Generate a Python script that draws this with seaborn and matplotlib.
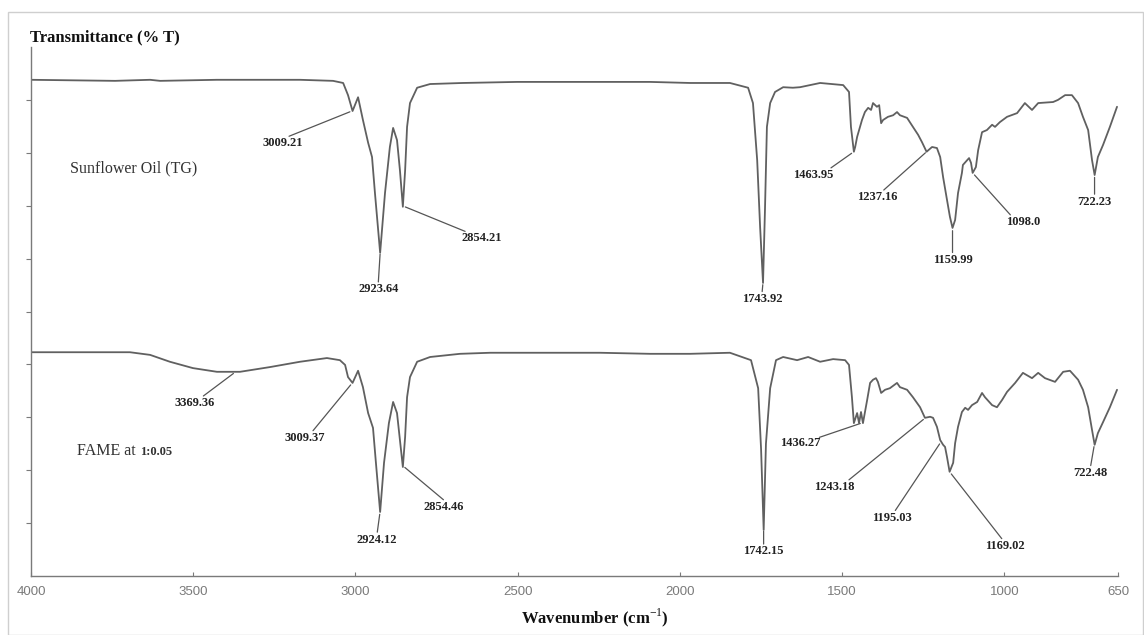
import numpy as np
import pandas as pd
import matplotlib
matplotlib.use("Agg")
import matplotlib.pyplot as plt
import seaborn as sns
from matplotlib import font_manager
from matplotlib.patches import Rectangle

# ---------------- data ----------------
wn_oil = [4000, 3741, 3633, 3602, 3427, 3171, 3069, 3038, 3023, 3009, 2992, 2977, 2961, 2949, 2940,
          2924, 2909, 2894, 2884, 2872, 2863, 2854, 2847, 2841, 2832, 2810, 2770, 2669, 2502, 2246,
          2092, 1969, 1846, 1790, 1775, 1762, 1753, 1744, 1738, 1732, 1722, 1707, 1682, 1652, 1630,
          1568, 1497, 1479, 1473, 1464, 1460, 1454, 1439, 1430, 1420, 1411, 1405, 1393, 1386, 1380,
          1374, 1359, 1343, 1331, 1322, 1300, 1282, 1266, 1254, 1240, 1223, 1208, 1198, 1189, 1177,
          1168, 1160, 1152, 1143, 1131, 1128, 1115, 1109, 1103, 1098, 1088, 1081, 1069, 1054, 1038,
          1029, 1014, 992, 961, 937, 915, 896, 850, 835, 813, 792, 773, 758, 742, 730,
          722, 712, 696, 675, 653]
t_oil = [93.8, 93.6, 93.8, 93.6, 93.8, 93.8, 93.6, 93.2, 90.9, 87.9, 90.5, 86.2, 81.9, 79.2, 72.4,
         61.1, 72.4, 81.1, 84.7, 82.4, 76.7, 69.8, 76.7, 84.9, 89.4, 92.3, 93.0, 93.2, 93.4, 93.4,
         93.4, 93.2, 93.2, 92.3, 89.4, 78.6, 66.0, 55.4, 69.2, 84.9, 89.4, 91.5, 92.4, 92.3, 92.4,
         93.2, 92.8, 91.5, 84.9, 80.2, 81.1, 83.0, 86.2, 87.7, 88.5, 88.1, 89.4, 88.7, 89.0, 85.6,
         86.2, 86.8, 87.1, 87.7, 87.1, 86.6, 84.9, 83.4, 82.0, 80.2, 81.1, 80.9, 79.2, 75.4, 71.1,
         67.9, 65.8, 67.3, 72.4, 76.2, 77.7, 78.6, 79.0, 78.1, 76.2, 77.3, 80.5, 83.9, 84.3, 85.3,
         84.9, 85.8, 86.8, 87.5, 89.4, 88.1, 89.4, 89.6, 90.0, 90.9, 90.9, 89.4, 86.8, 84.3, 78.6,
         75.8, 79.2, 81.5, 84.9, 88.7]

wn_fame = [4000, 3695, 3633, 3572, 3501, 3427, 3356, 3263, 3171, 3088, 3048, 3032, 3023, 3009, 2992,
           2977, 2961, 2946, 2937, 2924, 2912, 2897, 2884, 2872, 2863, 2854, 2847, 2841, 2832, 2810,
           2770, 2678, 2585, 2502, 2246, 2092, 1969, 1846, 1781, 1759, 1750, 1742, 1735, 1722, 1704,
           1682, 1639, 1605, 1568, 1528, 1491, 1479, 1470, 1464, 1454, 1448, 1442, 1436, 1423, 1414,
           1405, 1396, 1390, 1380, 1368, 1353, 1331, 1322, 1300, 1282, 1260, 1245, 1229, 1220, 1208,
           1198, 1189, 1183, 1177, 1169, 1158, 1152, 1143, 1131, 1121, 1112, 1100, 1084, 1069, 1060,
           1038, 1023, 1007, 992, 967, 943, 915, 896, 875, 844, 819, 798, 773, 758, 742,
           730, 722, 712, 696, 675, 653]
t_fame = [42.3, 42.3, 41.8, 40.5, 39.3, 38.6, 38.6, 39.5, 40.5, 41.2, 40.8, 39.9, 37.6, 36.5, 38.8,
          35.7, 30.8, 28.0, 21.4, 12.1, 21.4, 28.9, 32.9, 30.8, 25.7, 20.6, 26.3, 33.8, 37.6, 40.5,
          41.4, 42.0, 42.2, 42.2, 42.2, 42.0, 42.0, 42.2, 40.8, 35.5, 24.0, 8.7, 25.0, 35.5, 40.8,
          41.4, 40.8, 41.4, 40.5, 41.0, 40.8, 39.9, 33.8, 28.9, 30.8, 28.9, 31.0, 28.9, 33.3, 36.5,
          37.1, 37.4, 36.7, 34.6, 35.2, 35.5, 36.5, 35.7, 35.2, 33.8, 31.9, 29.9, 30.1, 29.9, 28.2,
          25.7, 24.8, 24.4, 22.5, 19.7, 21.4, 25.1, 28.2, 31.0, 31.8, 31.4, 32.3, 32.9, 34.6, 33.8,
          32.3, 31.9, 33.3, 34.8, 36.5, 38.4, 37.4, 38.4, 37.4, 36.7, 38.6, 38.8, 37.1, 35.2, 31.9,
          27.6, 24.8, 27.0, 29.1, 31.9, 35.2]

oil_peaks = [3009.21, 2923.64, 2854.21, 1743.92, 1463.95, 1237.16, 1159.99, 1098.0, 722.23]
oil_peak_labels = ["3009.21", "2923.64", "2854.21", "1743.92", "1463.95", "1237.16", "1159.99", "1098.0", "722.23"]
fame_peaks = [3369.36, 3009.37, 2924.12, 2854.46, 1742.15, 1436.27, 1243.18, 1195.03, 1169.02, 722.48]
fame_peak_labels = ["3369.36", "3009.37", "2924.12", "2854.46", "1742.15", "1436.27", "1243.18", "1195.03", "1169.02", "722.48"]

x_ticks = [4000, 3500, 3000, 2500, 2000, 1500, 1000, 650]
x_tick_labels = ["4000", "3500", "3000", "2500", "2000", "1500", "1000", "650"]
sample_names = ["Sunflower Oil (TG)", "FAME at 1:0.05"]

# ---------------- style / layout ----------------
oil_off = [(-70, -32), (-2, -38), (79, -32), (-1, -17), (-41, -23), (-50, -46), (0, -32), (51, -49), (0, -27)]
oil_rel = [(0.63, 1), (0.5, 1), (0.12, 1), (0.5, 1), (0.92, 1), (0.63, 1), (0.5, 1), (0.14, 1), (0.5, 1)]
fame_off = [(-41, -31), (-48, -55), (-3, -28), (41, -41), (0, -23), (-63, -20), (-91, -69), (-49, -76), (55, -74), (-4, -29)]
fame_rel = [(0.69, 1), (0.69, 1), (0.5, 1), (0.52, 1), (0.5, 1), (0.95, 0.9), (0.83, 1), (0.56, 1), (0.45, 1), (0.5, 1)]

sns.set_theme(style="white")
avail = {f.name for f in font_manager.fontManager.ttflist}
tick_family = "Liberation Sans Narrow" if "Liberation Sans Narrow" in avail else "Liberation Sans"
plt.rcParams["font.family"] = ["Liberation Serif", "DejaVu Serif"]
plt.rcParams["mathtext.fontset"] = "custom"
plt.rcParams["mathtext.rm"] = "Liberation Serif"
plt.rcParams["mathtext.bf"] = "Liberation Serif:bold"

W, H = 1144, 635
fig = plt.figure(figsize=(W / 100, H / 100), dpi=100)
ax = fig.add_axes([31 / W, 59 / H, 1087 / W, 529 / H])

df = pd.DataFrame({
    "wavenumber": wn_oil + wn_fame,
    "T": t_oil + t_fame,
    "sample": [sample_names[0]] * len(wn_oil) + [sample_names[1]] * len(wn_fame),
})
line_col = "#606060"
sns.lineplot(data=df, x="wavenumber", y="T", hue="sample", palette=[line_col, line_col],
             estimator=None, legend=False, linewidth=1.3, ax=ax)

ax.set_xlim(4000, 650)
ax.set_ylim(0, 100)
for s in ["top", "right"]:
    ax.spines[s].set_visible(False)
for s in ["left", "bottom"]:
    ax.spines[s].set_color("#7a7a7a")
    ax.spines[s].set_linewidth(1.0)

ax.set_yticks(list(range(10, 100, 10)))
ax.set_yticklabels([])
ax.tick_params(axis="y", direction="out", length=3.5, width=0.8, color="#7a7a7a", left=True)
ax.set_xticks(x_ticks)
ax.set_xticklabels(x_tick_labels, family=tick_family, fontsize=9.5, color="#7a7a7a")
ax.tick_params(axis="x", direction="in", length=3, width=0.8, color="#7a7a7a", bottom=True, pad=7)
ax.set_xlabel("")
ax.set_ylabel("")


def annotate_peaks(wn, t, peaks, labels, offs, rels):
    xs = np.asarray(wn)[::-1]
    ys = np.asarray(t)[::-1]
    for p, lab, off, rel in zip(peaks, labels, offs, rels):
        yv = float(np.interp(p, xs, ys))
        ax.annotate(lab, xy=(p, yv), xytext=off, textcoords="offset pixels",
                    ha="center", va="center", fontsize=9, fontweight="bold", color="#222222",
                    arrowprops=dict(arrowstyle="-", color="#555555", lw=0.9,
                                    relpos=rel, patchA=None, shrinkA=1, shrinkB=2))


annotate_peaks(wn_oil, t_oil, oil_peaks, oil_peak_labels, oil_off, oil_rel)
annotate_peaks(wn_fame, t_fame, fame_peaks, fame_peak_labels, fame_off, fame_rel)

# sample names
ax.text(3880, 77.1, sample_names[0], ha="left", va="center", fontsize=11.5, color="#333333")
t1 = ax.text(3858, 23.6, "FAME at", ha="left", va="center", fontsize=11.5, color="#333333")
ax.annotate(sample_names[1].split(" at ")[1], xy=(1, 0.42), xycoords=t1, xytext=(3, 0),
            textcoords="offset points", ha="left", va="center", fontsize=9,
            fontweight="bold", color="#333333")

# title and axis label
fig.text(30 / W, 1 - 37 / H, "Transmittance (% T)", ha="left", va="center",
         fontsize=12, fontweight="bold", color="#111111")
fig.text(595 / W, 1 - 623 / H, r"Wavenumber (cm$^{-1}$)", ha="center", va="baseline",
         fontsize=12, fontweight="bold", color="#111111")

# light frame around the picture
fig.patches.append(Rectangle((8 / W, 0.5 / H), (W - 9) / W, (H - 12) / H, transform=fig.transFigure,
                             fill=False, edgecolor="#cfcfcf", linewidth=1.0))

fig.savefig("out.png", dpi=100)
